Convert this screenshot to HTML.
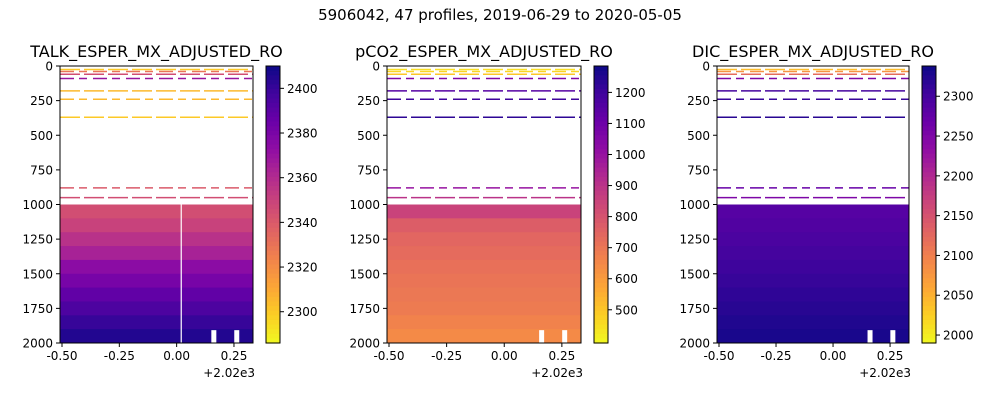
<!DOCTYPE html>
<html><head><meta charset="utf-8"><style>
body{margin:0;background:#fff;font-family:"Liberation Sans","DejaVu Sans",sans-serif}
svg text{font-family:"DejaVu Sans","Liberation Sans",sans-serif;fill:#000}
</style></head><body>
<svg id="c" width="1000" height="400" xmlns="http://www.w3.org/2000/svg">
<text x="500" y="20" font-size="15" text-anchor="middle">5906042, 47 profiles, 2019-06-29 to 2020-05-05</text>
</svg>
<script>
// data
const panelTitles=["TALK_ESPER_MX_ADJUSTED_RO","pCO2_ESPER_MX_ADJUSTED_RO","DIC_ESPER_MX_ADJUSTED_RO"];
const bandDepths=[1000,1100,1200,1300,1400,1500,1600,1700,1800,1900];
const talkBands=[2345,2350,2357,2364,2374,2381,2388,2394,2400,2405];
const pco2Bands=[850,770,745,730,715,705,695,685,665,645];
const dicBands=[2285,2290,2295,2300,2305,2310,2315,2320,2325,2330];
const lineDepths=[25,40,60,90,180,240,370,880,950];
const talkLines=[2300,2330,2345,2370,2305,2305,2300,2340,2345];
const pco2Lines=[450,470,500,1050,1150,1200,1230,1000,900];
const dicLines=[2040,2080,2120,2250,2300,2310,2320,2270,2250];
const xTicks=[-0.5,-0.25,0,0.25];
const yTicks=[0,250,500,750,1000,1250,1500,1750,2000];
const cbTicks=[[2300,2320,2340,2360,2380,2400],[500,600,700,800,900,1000,1100,1200],[2000,2050,2100,2150,2200,2250,2300]];
const cbRanges=[[2286,2410],[393,1285],[1990,2338]];
const gapX=[0.16,0.26];

const stops=["#0d0887","#41049d","#6a00a8","#8f0da4","#b12a90","#cc4778","#e16462","#f2844b","#fca636","#fcce25","#f0f921"];
function hx(h){return [1,3,5].map(i=>parseInt(h.substr(i,2),16));}
function plasma(t){t=Math.max(0,Math.min(1,t));const p=t*10,i=Math.min(9,Math.floor(p)),f=p-i;const a=hx(stops[i]),b=hx(stops[i+1]);return `rgb(${a.map((v,k)=>Math.round(v+(b[k]-v)*f)).join(",")})`;}
function cmap(t){return plasma(1-t);}
const svg=document.getElementById('c');const NS="http://www.w3.org/2000/svg";
function el(t,at,parent){const e=document.createElementNS(NS,t);for(const k in at)e.setAttribute(k,at[k]);(parent||svg).appendChild(e);return e;}
const panels=[{x0:60,x1:253,cb:266,data:talkBands,lines:talkLines,vline:true},{x0:387,x1:581,cb:594,data:pco2Bands,lines:pco2Lines},{x0:717,x1:909,cb:922,data:dicBands,lines:dicLines}];
const Y0=66,Y1=343;
panels.forEach((p,pi)=>{
 const g=el('g',{});
 
 
 const xs=v=>p.x0+2+(v+0.5)*(p.x1-p.x0-2)/0.833, ys=d=>Y0+d*(Y1-Y0)/2000;
 const [lo,hi]=cbRanges[pi];const col=v=>cmap((v-lo)/(hi-lo));
 p.data.forEach((v,i)=>{const r=el('rect',{x:p.x0,y:ys(bandDepths[i]),width:p.x1-p.x0,height:ys(100)-Y0+0.5,fill:col(v)},g);
  });
 p.lines.forEach((v,i)=>{const l=el('line',{x1:p.x0,x2:p.x1,y1:ys(lineDepths[i]),y2:ys(lineDepths[i]),stroke:col(v),'stroke-width':1.5,'stroke-dasharray':i%2?'14 5 8 6':'20 4'},g);
  });
 gapX.forEach(x=>{const r=el('rect',{x:xs(x)-2,y:ys(1900)+1,width:5,height:Y1-ys(1900)-1,fill:'#fff'},g);});
 if(p.vline){const l=el('line',{x1:xs(0.02),x2:xs(0.02),y1:ys(1000),y2:Y1,stroke:'#fff','stroke-width':1.2},g);}
 const fr=el('rect',{x:p.x0,y:Y0,width:p.x1-p.x0,height:Y1-Y0,fill:'none',stroke:'#000','stroke-width':1},g);
 
 const t=el('text',{x:(p.x0+p.x1)/2,y:57,'font-size':16,'text-anchor':'middle'},g);t.textContent=panelTitles[pi];
 
 xTicks.forEach(v=>{const x=xs(v);el('line',{x1:x,x2:x,y1:Y1,y2:Y1+4,stroke:'#000'},g);const tt=el('text',{x:x,y:Y1+17,'font-size':12,'text-anchor':'middle'},g);tt.textContent=v.toFixed(2);
  });
 const off=el('text',{x:p.x1+2,y:Y1+34,'font-size':12,'text-anchor':'end'},g);off.textContent='+2.02e3';
 
 yTicks.forEach(v=>{const y=ys(v);el('line',{x1:p.x0-4,x2:p.x0,y1:y,y2:y,stroke:'#000'},g);const tt=el('text',{x:p.x0-7,y:y+4.5,'font-size':12,'text-anchor':'end'},g);tt.textContent=v;
  });
 const cg=el('g',{},g);
 const N=60;for(let i=0;i<N;i++){el('rect',{x:p.cb,y:Y0+i*(Y1-Y0)/N,width:14,height:(Y1-Y0)/N+0.6,fill:cmap(1-(i+0.5)/N)},cg);}
 el('rect',{x:p.cb,y:Y0,width:14,height:Y1-Y0,fill:'none',stroke:'#000'},cg);
 cbTicks[pi].forEach(v=>{const y=Y1-(v-lo)/(hi-lo)*(Y1-Y0);el('line',{x1:p.cb+14,x2:p.cb+18,y1:y,y2:y,stroke:'#000'},cg);const tt=el('text',{x:p.cb+21,y:y+4.5,'font-size':12},cg);tt.textContent=v;
  });
});
</script>
</body></html>
